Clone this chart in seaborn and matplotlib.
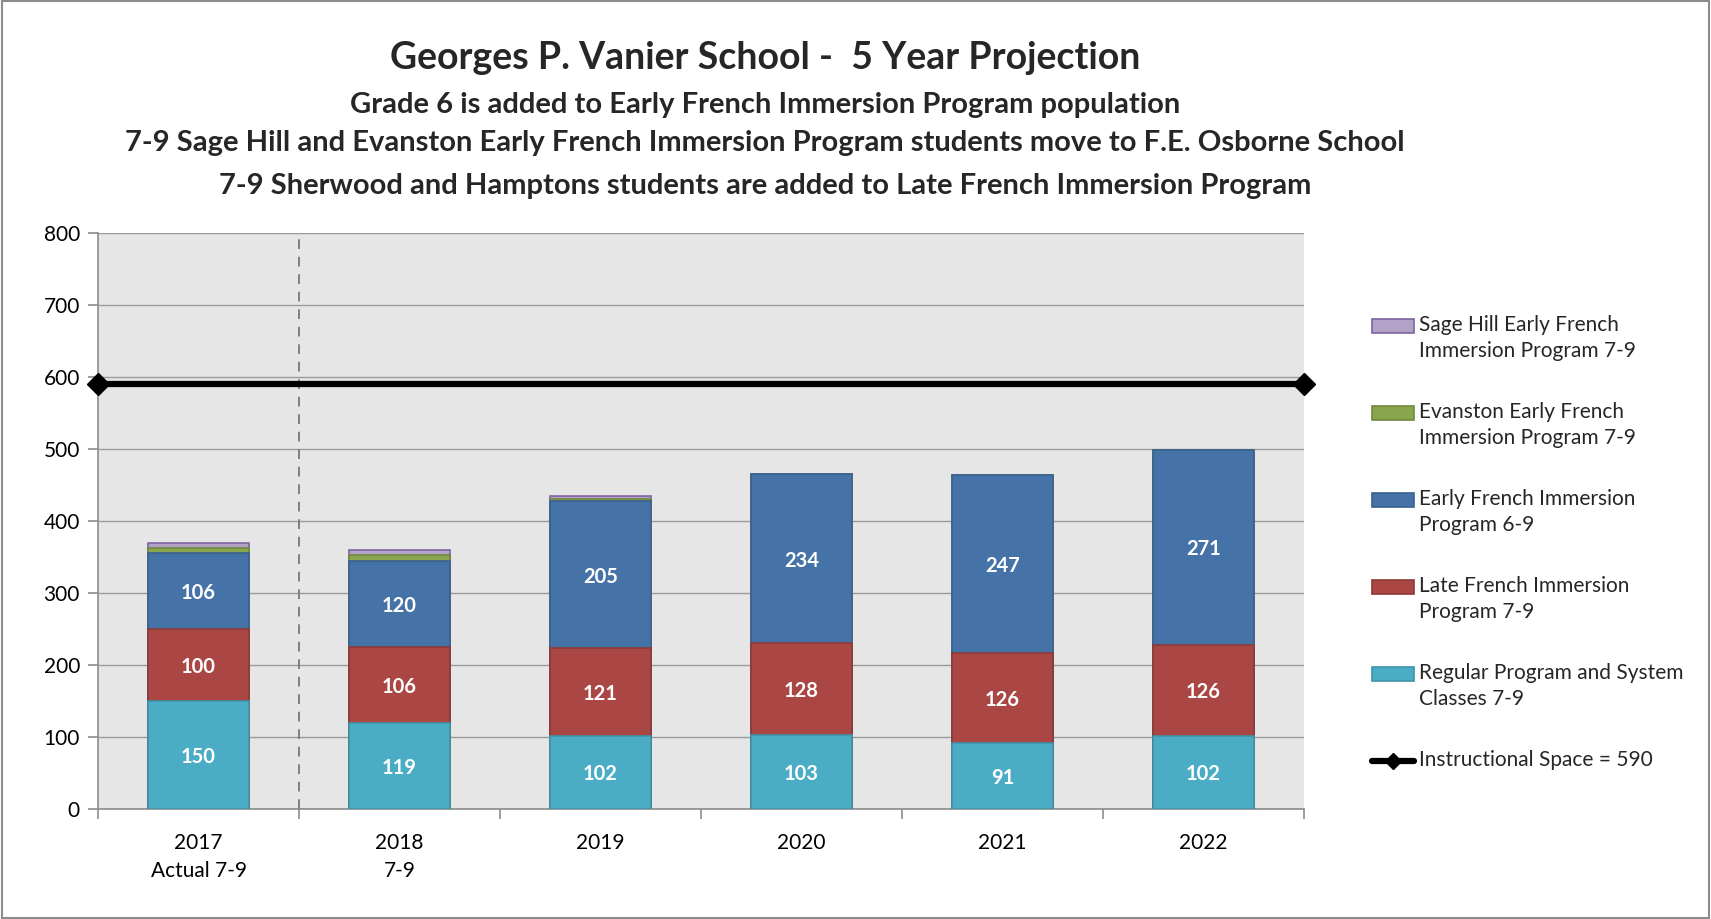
import matplotlib
matplotlib.use("Agg")
import matplotlib.pyplot as plt
from matplotlib.lines import Line2D
from matplotlib.patches import Patch, Rectangle
import seaborn as sns
import pandas as pd
import numpy as np

years = ["2017\nActual 7-9", "2018\n7-9", "2019", "2020", "2021", "2022"]
regular = [150, 119, 102, 103, 91, 102]
late = [100, 106, 121, 128, 126, 126]
early = [106, 120, 205, 234, 247, 271]
evanston = [7, 8, 3, 0, 0, 0]
sage_hill = [7, 7, 3, 0, 0, 0]
capacity = 590

series_names = [
    "Regular Program and System\nClasses 7-9",
    "Late French Immersion\nProgram 7-9",
    "Early French Immersion\nProgram 6-9",
    "Evanston Early French\nImmersion Program 7-9",
    "Sage Hill Early French\nImmersion Program 7-9",
]
line_name = "Instructional Space = 590"
series_vals = [regular, late, early, evanston, sage_hill]
face_colors = ["#4BACC6", "#AA4643", "#4572A7", "#89A54E", "#B3A2C7"]
edge_colors = ["#3F94AB", "#8E3A37", "#3A6190", "#71893F", "#8064A2"]
labelled = [True, True, True, False, False]

sns.set_theme(style="white")
plt.rcParams["font.family"] = ["Lato", "DejaVu Sans"]

fig = plt.figure(figsize=(17.11, 9.19), dpi=100)
ax = fig.add_axes([0.0573, 0.1197, 0.7047, 0.6268])
ax.set_facecolor("#E6E6E6")

cum = np.zeros(len(years))
cums = []
for vals in series_vals:
    cum = cum + np.array(vals)
    cums.append(cum.copy())

# draw from top layer down so lower layers overlay
for i in reversed(range(len(series_vals))):
    d = pd.DataFrame({"year": years, "v": cums[i]})
    sns.barplot(data=d, x="year", y="v", ax=ax, color=face_colors[i],
                width=0.5, edgecolor=edge_colors[i], linewidth=1.2,
                saturation=1, errorbar=None, zorder=3)

# value labels
for i, vals in enumerate(series_vals):
    if not labelled[i]:
        continue
    bottoms = cums[i] - np.array(vals)
    for x, (b, v) in enumerate(zip(bottoms, vals)):
        ax.text(x, b + v / 2 - 3, str(v), ha="center", va="center",
                color="white", fontsize=14.5, fontweight="bold", zorder=5)

# capacity line
ax.plot([-0.5, len(years) - 0.5], [capacity, capacity], color="black",
        lw=4.5, marker="D", markersize=11, zorder=6, clip_on=False)

# dashed separator
ax.axvline(0.5, color="#808080", lw=1.4, ls=(0, (5, 4)), zorder=4)

ax.set_xlim(-0.5, len(years) - 0.5)
ax.set_ylim(0, 800)
ax.set_yticks(range(0, 801, 100))
ax.yaxis.grid(True, color="#9A9A9A", lw=1)
ax.set_axisbelow(True)
ax.set_xlabel("")
ax.set_ylabel("")
for s in ["top", "right"]:
    ax.spines[s].set_visible(False)
for s in ["left", "bottom"]:
    ax.spines[s].set_color("#8C8C8C")
    ax.spines[s].set_linewidth(1.2)

ax.set_xticks(range(len(years)))
ax.set_xticklabels(years, fontsize=15, linespacing=1.55)
ax.set_xticks(np.arange(-0.5, len(years), 1.0), minor=True)
ax.tick_params(axis="x", which="major", length=0, pad=17, colors="black")
ax.tick_params(axis="x", which="minor", length=7, color="#8C8C8C", width=1.2,
               direction="out", bottom=True)
ax.tick_params(axis="y", which="major", length=7, color="#8C8C8C", width=1.2,
               direction="out", left=True, labelsize=15, pad=6, labelcolor="black")

# legend (a leading blank line puts the handle beside the first text line)
handles = [Patch(facecolor=face_colors[i], edgecolor=edge_colors[i], linewidth=1.2)
           for i in reversed(range(len(series_vals)))]
labels = ["\n" + series_names[i] for i in reversed(range(len(series_vals)))]
handles.append(Line2D([0], [0], color="black", lw=4.5, marker="D", markersize=8))
labels.append("\n" + line_name + "\n")
leg = fig.legend(handles, labels, loc="upper left", bbox_to_anchor=(0.797, 0.6945),
                 frameon=False, fontsize=15, labelspacing=0.73, handlelength=2.0,
                 handleheight=0.65, handletextpad=0.25, borderaxespad=0)
for t in leg.get_texts():
    t.set_linespacing(1.37)

# titles
fig.text(0.447, 0.937, "Georges P. Vanier School -  5 Year Projection",
         ha="center", va="center", fontsize=27, fontweight="bold")
fig.text(0.447, 0.886, "Grade 6 is added to Early French Immersion Program population",
         ha="center", va="center", fontsize=21, fontweight="bold")
fig.text(0.447, 0.844, "7-9 Sage Hill and Evanston Early French Immersion Program students move to F.E. Osborne School",
         ha="center", va="center", fontsize=21, fontweight="bold")
fig.text(0.447, 0.798, "7-9 Sherwood and Hamptons students are added to Late French Immersion Program",
         ha="center", va="center", fontsize=21, fontweight="bold")

fig.patches.append(Rectangle((0.001, 0.001), 0.998, 0.998, transform=fig.transFigure,
                             fill=False, edgecolor="#8C8C8C", lw=1.5))

fig.savefig("out.png", dpi=100)
